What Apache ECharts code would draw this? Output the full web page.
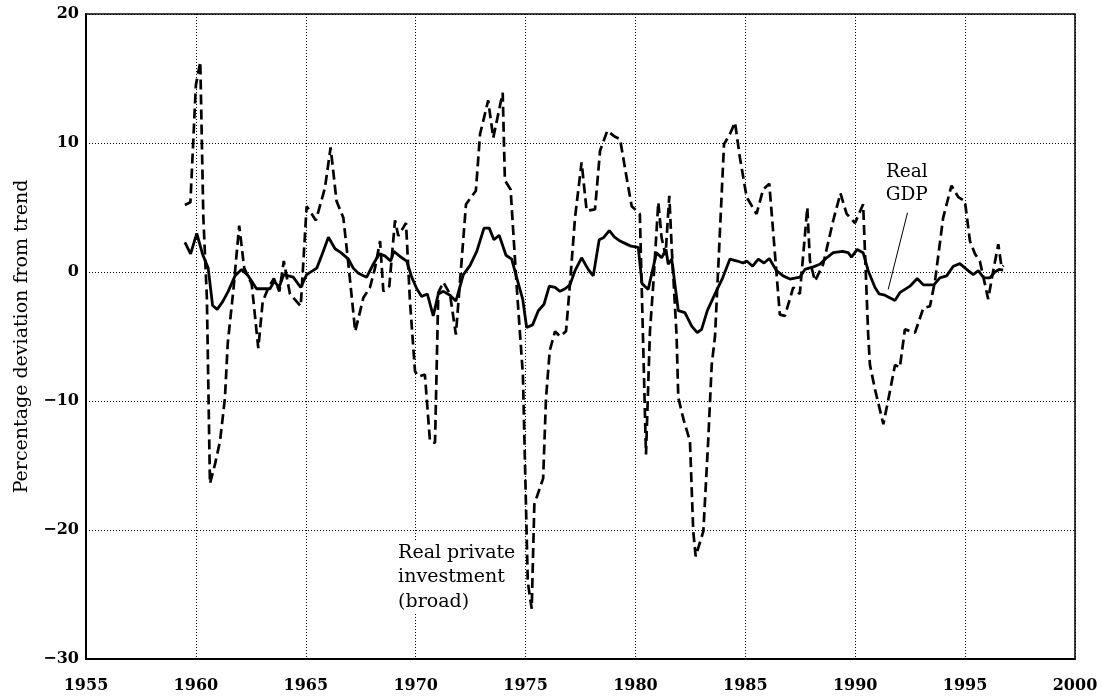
<!DOCTYPE html>
<html>
<head>
<meta charset="utf-8">
<script src="https://cdn.jsdelivr.net/npm/echarts@6/dist/echarts.min.js"></script>
<style>
html,body{margin:0;padding:0;background:#fff;}
#chart{width:1102px;height:698px;}
</style>
</head>
<body>
<div id="chart"></div>
<script>
// Tick labels
const xTicks = [1955, 1960, 1965, 1970, 1975, 1980, 1985, 1990, 1995, 2000];
const yTicks = [-30, -20, -10, 0, 10, 20];

// Real GDP: percentage deviation from trend
const gdpYears = [1959.5,1959.76,1960.04,1960.3,1960.56,1960.76,1960.97,1961.22,1961.47,1961.78,1962.08,1962.38,1962.76,1963.0,1963.37,1963.57,1963.78,1964.0,1964.43,1964.77,1965.04,1965.5,1965.75,1966.03,1966.33,1966.6,1966.94,1967.16,1967.39,1967.77,1968.07,1968.34,1968.6,1968.86,1969.01,1969.29,1969.59,1969.82,1970.05,1970.27,1970.53,1970.8,1971.03,1971.26,1971.56,1971.83,1972.17,1972.47,1972.78,1973.11,1973.35,1973.56,1973.8,1974.11,1974.37,1974.59,1974.87,1975.05,1975.32,1975.58,1975.84,1976.08,1976.34,1976.57,1976.8,1977.02,1977.25,1977.55,1977.85,1978.08,1978.35,1978.54,1978.81,1979.05,1979.3,1979.55,1979.8,1980.13,1980.3,1980.58,1980.96,1981.19,1981.39,1981.49,1981.65,1981.95,1982.25,1982.56,1982.81,1983.01,1983.27,1983.62,1983.97,1984.3,1984.63,1984.9,1985.06,1985.33,1985.59,1985.85,1986.09,1986.42,1986.72,1987.03,1987.48,1987.71,1988.09,1988.39,1988.7,1989.0,1989.42,1989.68,1989.83,1990.09,1990.36,1990.59,1990.9,1991.09,1991.35,1991.81,1992.03,1992.49,1992.82,1993.1,1993.58,1993.85,1994.16,1994.46,1994.76,1995.07,1995.37,1995.6,1995.85,1996.13,1996.35,1996.55,1996.73];
const gdpValues = [2.3,1.4,3.0,1.4,0.3,-2.6,-2.9,-2.3,-1.5,-0.3,0.2,-0.3,-1.3,-1.3,-1.3,-0.7,-1.2,-0.2,-0.4,-1.2,-0.2,0.3,1.4,2.7,1.8,1.5,1.0,0.3,-0.1,-0.4,0.6,1.4,1.25,0.85,1.6,1.2,0.85,-0.4,-1.3,-1.9,-1.7,-3.4,-1.7,-1.5,-1.8,-2.25,-0.2,0.5,1.6,3.4,3.4,2.5,2.85,1.3,1.0,-0.4,-2.1,-4.3,-4.1,-3.0,-2.5,-1.1,-1.2,-1.5,-1.3,-1.0,0.1,1.1,0.2,-0.3,2.5,2.65,3.2,2.7,2.4,2.2,2.0,1.9,-0.9,-1.35,1.5,1.1,1.75,0.6,1.0,-3.0,-3.15,-4.2,-4.7,-4.45,-3.0,-1.7,-0.45,1.0,0.85,0.7,0.85,0.45,1.0,0.7,1.05,0.1,-0.3,-0.55,-0.4,0.2,0.4,0.6,1.1,1.5,1.6,1.5,1.15,1.75,1.5,0.1,-1.2,-1.7,-1.8,-2.2,-1.6,-1.1,-0.5,-1.0,-1.0,-0.45,-0.3,0.45,0.65,0.2,-0.2,0.1,-0.45,-0.45,0.0,0.2,0.15];

// Real private investment (broad): percentage deviation from trend
const invYears = [1959.5,1959.75,1960.0,1960.2,1960.34,1960.5,1960.64,1960.87,1961.1,1961.32,1961.45,1961.7,1961.97,1962.2,1962.54,1962.84,1963.04,1963.3,1963.55,1963.8,1964.0,1964.28,1964.77,1965.04,1965.46,1965.87,1966.13,1966.4,1966.71,1966.94,1967.25,1967.62,1967.92,1968.15,1968.38,1968.53,1968.8,1969.06,1969.21,1969.56,1969.74,1969.97,1970.12,1970.42,1970.65,1970.88,1971.03,1971.26,1971.56,1971.83,1972.29,1972.74,1972.93,1973.3,1973.53,1973.96,1974.06,1974.32,1974.59,1974.88,1975.1,1975.28,1975.4,1975.8,1975.93,1976.1,1976.34,1976.57,1976.84,1977.02,1977.25,1977.55,1977.78,1978.16,1978.39,1978.72,1979.05,1979.3,1979.6,1979.83,1980.05,1980.2,1980.48,1980.66,1980.81,1981.04,1981.19,1981.37,1981.54,1981.65,1981.87,1981.95,1982.2,1982.48,1982.63,1982.74,1983.09,1983.31,1983.47,1983.62,1984.03,1984.3,1984.53,1984.75,1985.06,1985.51,1985.81,1986.09,1986.57,1986.8,1987.18,1987.48,1987.82,1987.94,1988.17,1988.54,1989.0,1989.33,1989.61,1989.99,1990.36,1990.59,1990.67,1990.9,1991.28,1991.58,1991.81,1992.03,1992.26,1992.72,1993.1,1993.4,1993.63,1994.0,1994.38,1994.69,1994.99,1995.22,1995.45,1995.67,1996.05,1996.28,1996.51,1996.66,1996.75];
const invValues = [5.2,5.4,14.5,16.3,4.2,-2.0,-16.4,-14.9,-13.1,-9.8,-5.5,-1.5,3.6,0.3,-0.95,-5.9,-2.3,-1.2,-0.5,-1.5,0.85,-1.7,-2.65,5.1,4.0,6.5,9.65,5.5,4.2,0.6,-4.6,-2.0,-1.2,0.3,2.4,-1.5,-1.1,4.0,2.8,3.8,-2.25,-7.7,-8.1,-7.95,-13.1,-13.25,-1.6,-0.8,-1.7,-4.85,5.25,6.3,10.7,13.3,10.4,13.9,7.1,6.4,-0.95,-8.0,-24.0,-26.1,-18.0,-16.0,-9.8,-6.1,-4.6,-5.0,-4.6,-0.95,4.2,8.5,4.75,4.85,9.4,10.95,10.5,10.3,7.3,5.1,4.75,4.5,-14.15,-4.6,-1.0,5.4,2.65,1.3,5.9,1.9,-4.85,-9.75,-11.5,-13.1,-20.1,-22.05,-20.1,-13.1,-7.2,-5.0,9.9,10.7,11.6,8.9,5.8,4.5,6.4,6.85,-3.3,-3.4,-1.2,-1.7,5.0,0.85,-0.7,0.6,4.0,6.1,4.5,3.8,5.25,-4.85,-7.2,-9.1,-11.8,-9.25,-7.2,-7.4,-4.45,-4.7,-2.8,-2.65,-0.7,4.2,6.7,5.8,5.5,2.4,1.4,0.85,-2.1,0.1,2.15,0.35,0.5];

const gdpLabel = ['Real', 'GDP'];
const invLabel = ['Real private', 'investment', '(broad)'];

const chart = echarts.init(document.getElementById('chart'));
const pair = (xs, ys) => xs.map((x, i) => [x, ys[i]]);
const serif = "'DejaVu Serif', 'Liberation Serif', serif";

chart.setOption({
  animation: false,
  backgroundColor: '#fff',
  grid: { left: 86, right: 27, top: 14, bottom: 39, show: true, borderColor: '#000', borderWidth: 1.5, backgroundColor: 'transparent' },
  xAxis: {
    type: 'value', min: xTicks[0], max: xTicks[xTicks.length - 1], interval: 5,
    axisLine: { show: true, onZero: false, lineStyle: { color: '#000', width: 2 } },
    axisTick: { show: false },
    axisLabel: { color: '#000', fontFamily: serif, fontWeight: 'bold', fontSize: 16, margin: 19, formatter: v => String(v) },
    splitLine: { show: true, lineStyle: { color: '#000', type: [1, 2], width: 1 } }
  },
  yAxis: {
    type: 'value', min: yTicks[0], max: yTicks[yTicks.length - 1], interval: 10,
    name: 'Percentage deviation from trend', nameLocation: 'middle', nameGap: 54,
    nameTextStyle: { color: '#000', fontFamily: serif, fontSize: 19 },
    axisLine: { show: true, onZero: false, lineStyle: { color: '#000', width: 2 } },
    axisTick: { show: false },
    axisLabel: { color: '#000', fontFamily: serif, fontWeight: 'bold', fontSize: 16, margin: 7, formatter: v => v < 0 ? '\u2212' + Math.abs(v) : String(v) },
    splitLine: { show: true, lineStyle: { color: '#000', type: [1, 2], width: 1 } }
  },
  series: [
    { name: 'Real private investment (broad)', type: 'line', data: pair(invYears, invValues), showSymbol: false, symbol: 'none',
      lineStyle: { color: '#000', width: 2.7, type: [10, 5] }, z: 3 },
    { name: 'Real GDP', type: 'line', data: pair(gdpYears, gdpValues), showSymbol: false, symbol: 'none',
      lineStyle: { color: '#000', width: 2.8 }, z: 4 }
  ]
});

const p = c => chart.convertToPixel({ gridIndex: 0 }, c);
const gdpAnchor = p([1993.3, 8.65]);
const lineStart = p([1992.38, 4.6]);
const lineEnd = p([1991.5, -1.35]);
const invAnchor = p([1969.2, -20.8]);

chart.setOption({
  graphic: [
    { type: 'text', x: gdpAnchor[0], y: gdpAnchor[1], z: 10,
      style: { text: gdpLabel.join('\n'), fontFamily: serif, fontSize: 18.5, lineHeight: 23, fill: '#000', align: 'right', verticalAlign: 'top', backgroundColor: '#fff' } },
    { type: 'line', z: 10, shape: { x1: lineStart[0], y1: lineStart[1], x2: lineEnd[0], y2: lineEnd[1] }, style: { stroke: '#000', lineWidth: 1 } },
    { type: 'text', x: invAnchor[0], y: invAnchor[1], z: 10,
      style: { text: invLabel.join('\n'), fontFamily: serif, fontSize: 19, lineHeight: 24.5, fill: '#000', align: 'left', verticalAlign: 'top', backgroundColor: '#fff' } }
  ]
});
</script>
</body>
</html>
